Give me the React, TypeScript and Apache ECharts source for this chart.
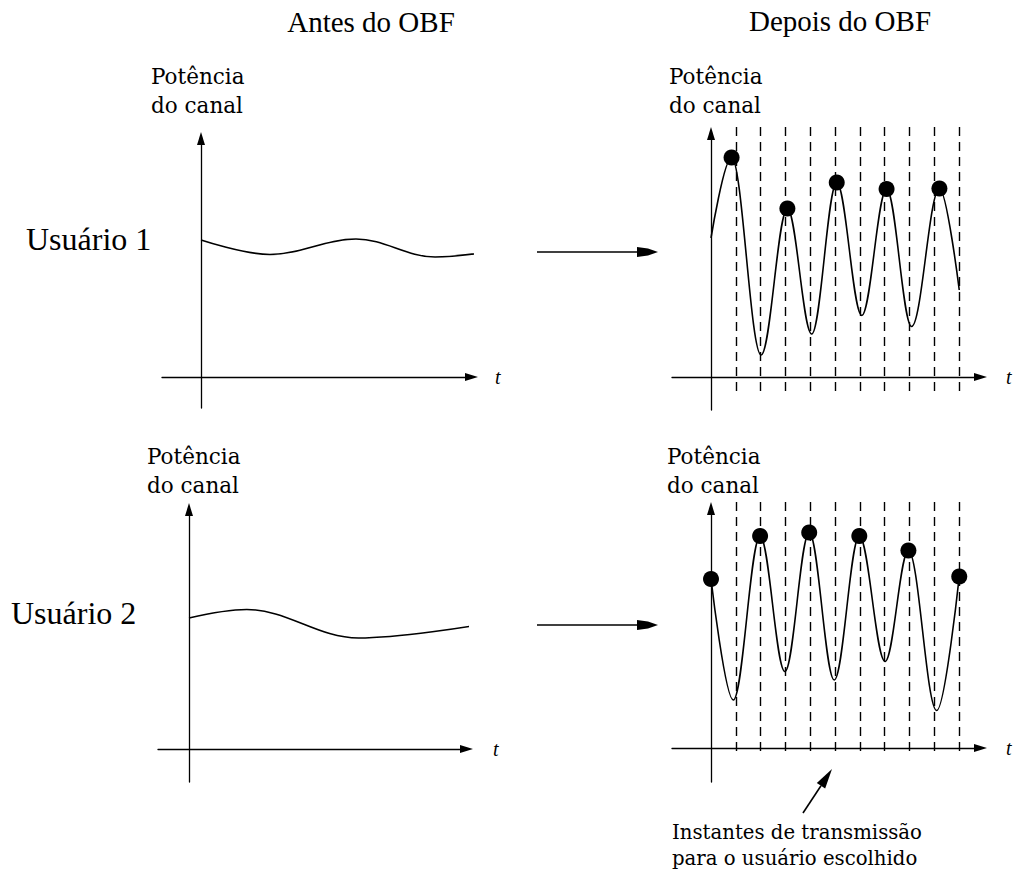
import React, { useEffect, useRef } from 'react';
import * as echarts from 'echarts';

// ---- Data (time in slot units, channel power in arbitrary units) ----
const TIME_U1_BEFORE = [0, 2.78, 6.25, 9.44, 11.57];
const POWER_U1_BEFORE = [2.74, 2.45, 2.76, 2.4, 2.5];
const TIME_U2_BEFORE = [0, 2.33, 6.83, 11.53];
const POWER_U2_BEFORE = [2.62, 2.79, 2.22, 2.47];
const TIME_U1_AFTER = [0, 0.83, 2.02, 3.08, 4.06, 5.07, 6.08, 7.08, 8.09, 9.21, 10.01];
const POWER_U1_AFTER = [2.78, 4.39, 0.44, 3.37, 0.86, 3.89, 1.23, 3.76, 1.01, 3.77, 1.74];
const TIME_U2_AFTER = [0, 0.9, 1.98, 2.98, 3.96, 4.97, 5.98, 7.02, 7.96, 9.1, 10.01];
const POWER_U2_AFTER = [3.38, 0.96, 4.24, 1.53, 4.31, 1.36, 4.24, 1.73, 3.95, 0.75, 3.43];
const INSTANTS = [1, 2, 3, 4, 5, 6, 7, 8, 9, 10];
const U1_CHOSEN_IDX = [1, 3, 5, 7, 9];
const U2_CHOSEN_IDX = [0, 2, 4, 6, 8, 10];

// ---- Layout ----
const PX_X = 24.8;
const PX_Y = 50;
const ARROW_W = 8;
const ARROW_H = 13;
const SERIF = 'Liberation Serif';
const LABEL = 'DejaVu Serif';

type Panel = {
  ox: number; oy: number; xStart: number; xTip: number; yTip: number; yBottom: number;
  tLeft: number; time: number[]; power: number[]; chosen?: number[]; dash?: [number, number];
};

const PANELS: Panel[] = [
  { ox: 201, oy: 377, xStart: 162, xTip: 478, yTip: 132, yBottom: 408, tLeft: 495, time: TIME_U1_BEFORE, power: POWER_U1_BEFORE },
  { ox: 189, oy: 749, xStart: 158, xTip: 473, yTip: 503, yBottom: 782, tLeft: 493, time: TIME_U2_BEFORE, power: POWER_U2_BEFORE },
  { ox: 711, oy: 377, xStart: 672, xTip: 987, yTip: 127, yBottom: 410, tLeft: 1006, time: TIME_U1_AFTER, power: POWER_U1_AFTER, chosen: U1_CHOSEN_IDX, dash: [5.0, -0.3] },
  { ox: 711, oy: 748, xStart: 672, xTip: 987, yTip: 502, yBottom: 782, tLeft: 1006, time: TIME_U2_AFTER, power: POWER_U2_AFTER, chosen: U2_CHOSEN_IDX, dash: [4.92, -0.16] },
];

function text(t: string, x: number, y: number, size: number, family: string, align = 'left', italic = false) {
  const style: any = {
    text: t, x, y, fontSize: size, fontFamily: family,
    fill: '#000', align, verticalAlign: 'middle',
  };
  if (italic) style.fontStyle = 'italic';
  return { type: 'text', z: 10, style };
}

function hArrow(x0: number, x1: number, y: number) {
  return [
    { type: 'line', z: 10, shape: { x1: x0, y1: y, x2: x1 - 18, y2: y }, style: { stroke: '#000', lineWidth: 1.4 } },
    {
      type: 'polygon', z: 10,
      shape: { points: [[x1 - 21, y - 5], [x1 - 10, y - 3.5], [x1, y], [x1 - 10, y + 3.5], [x1 - 21, y + 5]] },
      style: { fill: '#000' },
    },
  ];
}

function slantArrow(tx: number, ty: number, hx: number, hy: number) {
  const dx = hx - tx, dy = hy - ty;
  const len = Math.sqrt(dx * dx + dy * dy);
  const ux = dx / len, uy = dy / len;
  const bx = hx - ux * 20, by = hy - uy * 20;
  const px = -uy, py = ux;
  return [
    { type: 'line', z: 10, shape: { x1: tx, y1: ty, x2: bx, y2: by }, style: { stroke: '#000', lineWidth: 1.6 } },
    {
      type: 'polygon', z: 10,
      shape: { points: [[hx, hy], [bx + px * 5, by + py * 5], [bx - px * 5, by - py * 5]] },
      style: { fill: '#000' },
    },
  ];
}

function buildOption() {
  const grid: any[] = [];
  const xAxis: any[] = [];
  const yAxis: any[] = [];
  const series: any[] = [];

  PANELS.forEach((p, i) => {
    const right = p.xTip - ARROW_H / 2;
    const top = p.yTip + ARROW_H / 2;
    grid.push({ left: p.xStart, top, width: right - p.xStart, height: p.yBottom - top, outerBoundsMode: 'none' });
    const axisLine = {
      show: true,
      onZero: true,
      symbol: ['none', 'triangle'],
      symbolSize: [ARROW_W, ARROW_H],
      lineStyle: { color: '#000', width: 1.3 },
    };
    xAxis.push({
      type: 'value', gridIndex: i,
      min: (p.xStart - p.ox) / PX_X, max: (right - p.ox) / PX_X,
      axisLine, axisTick: { show: false }, axisLabel: { show: false }, splitLine: { show: false },
      name: 't', nameLocation: 'end', nameGap: p.tLeft - right,
      nameTextStyle: { fontFamily: SERIF, fontStyle: 'italic', fontSize: 20, color: '#000', align: 'left', verticalAlign: 'middle' },
    });
    yAxis.push({
      type: 'value', gridIndex: i,
      min: (p.oy - p.yBottom) / PX_Y, max: (p.oy - top) / PX_Y,
      axisLine, axisTick: { show: false }, axisLabel: { show: false }, splitLine: { show: false },
    });
    series.push({
      type: 'line', xAxisIndex: i, yAxisIndex: i,
      data: p.time.map((t, k) => [t, p.power[k]]),
      smooth: 0.36, smoothMonotone: 'x',
      symbol: 'none', showSymbol: false, clip: false, silent: true, z: 3,
      lineStyle: { color: '#000', width: 1.6 },
    });
    if (p.dash) {
      const [d0, d1] = p.dash;
      series.push({
        type: 'lines', coordinateSystem: 'cartesian2d', xAxisIndex: i, yAxisIndex: i,
        data: INSTANTS.map((k) => ({ coords: [[k, d0], [k, d1]] })),
        lineStyle: { color: '#000', width: 1.4, type: [9, 6], opacity: 1 },
        clip: false, silent: true, z: 2,
      });
    }
    if (p.chosen) {
      series.push({
        type: 'scatter', xAxisIndex: i, yAxisIndex: i,
        data: p.chosen.map((k) => [p.time[k], p.power[k]]),
        symbol: 'circle', symbolSize: 16, itemStyle: { color: '#000', opacity: 1 },
        clip: false, silent: true, z: 5,
      });
    }
  });

  const graphic: any[] = [
    text('Antes do OBF', 371, 22, 29, SERIF, 'center'),
    text('Depois do OBF', 840, 21, 29, SERIF, 'center'),
    text('Usuário 1', 26, 239, 32, SERIF),
    text('Usuário 2', 11, 613, 32, SERIF),
    text('Potência', 151, 76, 21.5, LABEL),
    text('do canal', 151, 105, 21.5, LABEL),
    text('Potência', 669, 76, 21.5, LABEL),
    text('do canal', 669, 105, 21.5, LABEL),
    text('Potência', 147, 456, 21.5, LABEL),
    text('do canal', 147, 485, 21.5, LABEL),
    text('Potência', 667, 456, 21.5, LABEL),
    text('do canal', 667, 485, 21.5, LABEL),
    text('Instantes de transmissão', 672, 832, 19.7, LABEL),
    text('para o usuário escolhido', 672, 858, 19.7, LABEL),
    ...hArrow(537, 658, 252),
    ...hArrow(537, 658, 625),
    ...slantArrow(803, 813, 832, 769),
  ];

  return {
    animation: false,
    backgroundColor: '#fff',
    grid, xAxis, yAxis, series, graphic,
  };
}

export default function App() {
  const ref = useRef<HTMLDivElement>(null);
  useEffect(() => {
    const chart = echarts.init(ref.current!, null, { renderer: 'svg' });
    chart.setOption(buildOption() as any);
    return () => chart.dispose();
  }, []);
  return (
    <div
      ref={ref}
      style={{ position: 'fixed', left: 0, top: 0, width: 1018, height: 874, background: '#fff' }}
    />
  );
}
